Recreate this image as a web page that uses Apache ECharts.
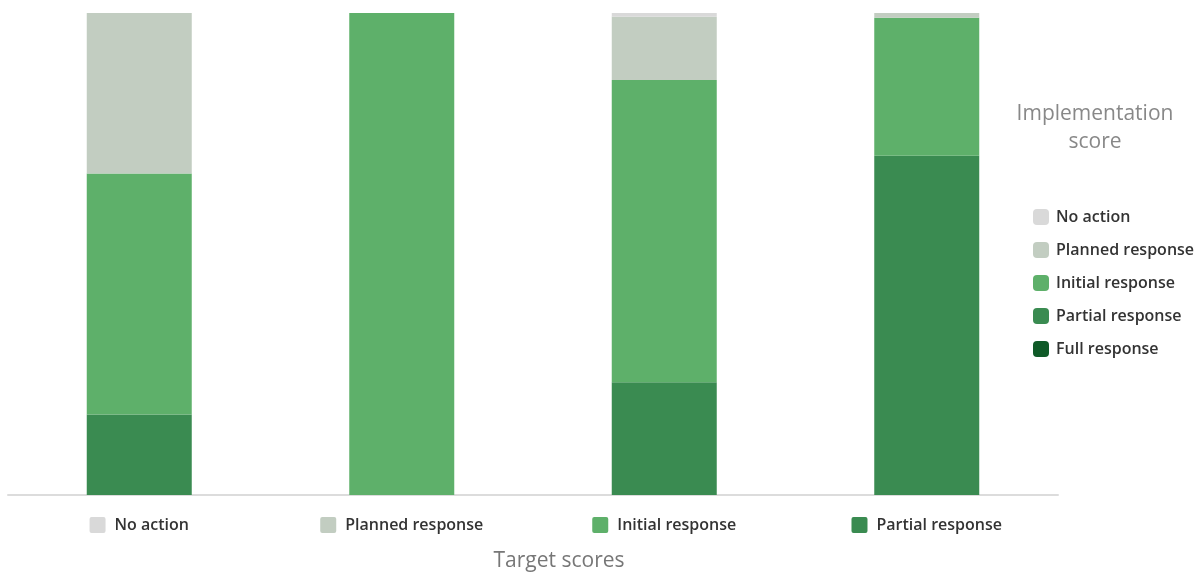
<!DOCTYPE html>
<html><head><meta charset="utf-8">
<script src="https://cdn.jsdelivr.net/npm/echarts@6/dist/echarts.min.js"></script>
<style>html,body{margin:0;padding:0;background:#fff}#c{width:1202px;height:574px}</style>
</head><body><div id="c"></div>
<script>
const categories = ['No action', 'Planned response', 'Initial response', 'Partial response'];
const categoryColors = ['#d9d9d9', '#c2cdc1', '#5eb06a', '#3a8b51'];
const seriesNames = ['No action', 'Planned response', 'Initial response', 'Partial response', 'Full response'];
const seriesColors = ['#d9d9d9', '#c2cdc1', '#5eb06a', '#3a8b51', '#0f5a28'];
const noAction = [0, 0, 0.8, 0];
const planned = [33.3, 0, 13.1, 1.0];
const initial = [50.0, 100, 62.7, 28.6];
const partial = [16.7, 0, 23.4, 70.4];
const full = [0, 0, 0, 0];
const values = [noAction, planned, initial, partial, full];

const chart = echarts.init(document.getElementById('c'));
const rich = {};
categoryColors.forEach((c, i) => {
  rich['s' + i] = {width: 16, height: 16, backgroundColor: c, borderRadius: 2};
});
rich.t = {fontSize: 16, fontWeight: 600, color: '#333', fontFamily: 'Open Sans', padding: [0, 0, 0, 9]};

// stack bottom-up: Full, Partial, Initial, Planned, No action
const order = [4, 3, 2, 1, 0];
const series = order.map(i => ({
  name: seriesNames[i],
  type: 'bar',
  stack: 'total',
  barWidth: 105,
  data: values[i],
  itemStyle: {color: seriesColors[i]},
  emphasis: {disabled: true}
}));

chart.setOption({
  animation: false,
  textStyle: {fontFamily: 'Open Sans'},
  grid: {left: 8, right: 144, top: 13, bottom: 79, containLabel: false, outerBoundsMode: 'none'},
  graphic: [{
    type: 'text', x: 1095, y: 100,
    style: {text: 'Implementation\nscore', fill: '#888', font: '21px "Open Sans"', align: 'center', verticalAlign: 'top', lineHeight: 28}
  }],
  legend: {
    data: seriesNames,
    orient: 'vertical',
    left: 1033, top: 209, padding: 0,
    itemWidth: 16, itemHeight: 16, itemGap: 17,
    icon: 'roundRect',
    textStyle: {fontSize: 16, fontWeight: 600, color: '#333', fontFamily: 'Open Sans', padding: [0, 0, 0, 2]}
  },
  xAxis: {
    type: 'category',
    data: categories,
    axisLine: {lineStyle: {color: '#dcdcdc', width: 2}},
    axisTick: {show: false},
    axisLabel: {
      margin: 22,
      formatter: (v, i) => '{s' + i + '|}{t|' + v + '}',
      rich: rich
    },
    name: 'Target scores',
    nameLocation: 'middle',
    nameGap: 56,
    nameTextStyle: {fontSize: 21, color: '#777', fontFamily: 'Open Sans', padding: [0, 0, 0, 52]}
  },
  yAxis: {type: 'value', min: 0, max: 100, show: false},
  series: series
});
</script></body></html>
